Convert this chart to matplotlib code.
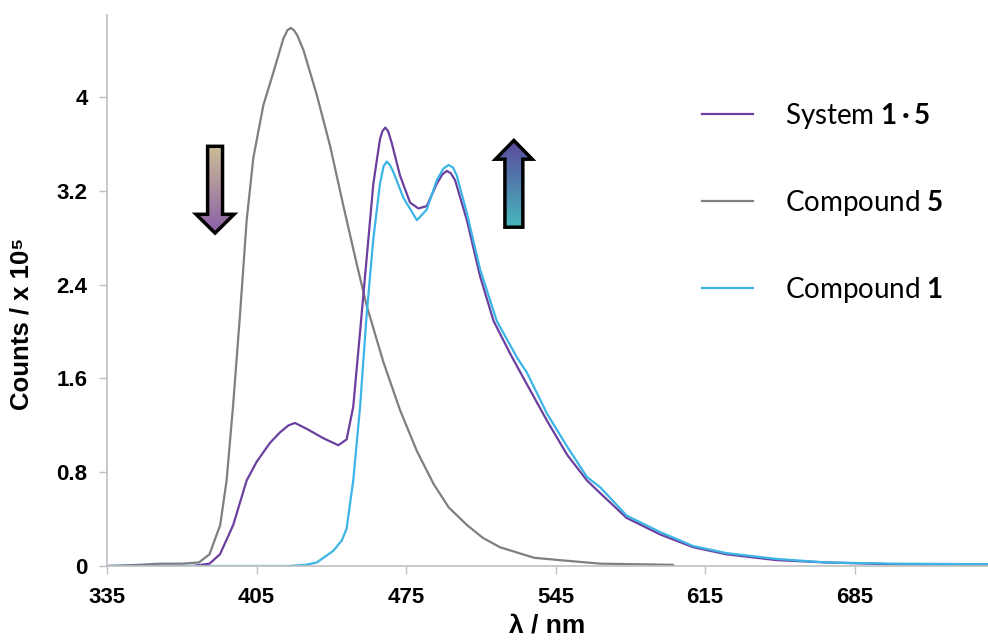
import matplotlib
matplotlib.use('Agg')
import matplotlib.pyplot as plt
import numpy as np
from matplotlib.patches import Polygon
from matplotlib.colors import LinearSegmentedColormap

# emission spectra (counts / 1e5)
wl_5 = [335, 350, 360, 370, 378, 383, 388, 391, 394, 397.3, 400.4, 403.5, 408.2,
        412.9, 417.6, 419.5, 421, 422.5, 424, 427, 433.2, 439.5, 445.7, 452, 456.6,
        464.4, 472.2, 480.1, 487.9, 495, 503.5, 511, 519, 535, 547, 566, 600]
cnt_5 = [0.0, 0.01, 0.02, 0.02, 0.03, 0.10, 0.35, 0.73, 1.36, 2.15, 2.95, 3.48, 3.93,
         4.21, 4.50, 4.57, 4.59, 4.57, 4.53, 4.40, 4.02, 3.58, 3.07, 2.57, 2.22,
         1.74, 1.33, 0.98, 0.70, 0.50, 0.35, 0.24, 0.16, 0.07, 0.05, 0.02, 0.01]

wl_15 = [335, 375, 383, 387.9, 394.1, 400.4, 405.1, 411.3, 416, 420, 423, 428.5,
         436.3, 443.3, 447.2, 450.3, 453.5, 456.6, 459.7, 462.8, 464, 465.3, 466.6,
         468.3, 472.2, 476.9, 480.8, 484.7, 489.4, 492, 494.1, 496, 498, 503.5, 509.7,
         516, 523.8, 531.6, 541, 550.4, 559.7, 566, 578.3, 593.9, 609.5, 625, 648.5,
         672, 703, 748]
cnt_15 = [0.0, 0.0, 0.02, 0.10, 0.35, 0.73, 0.89, 1.05, 1.14, 1.20, 1.22, 1.17,
          1.09, 1.03, 1.08, 1.36, 2.00, 2.63, 3.26, 3.64, 3.71, 3.74, 3.71,
          3.61, 3.33, 3.10, 3.05, 3.07, 3.26, 3.34, 3.37, 3.35, 3.29, 2.95, 2.47,
          2.09, 1.81, 1.55, 1.24, 0.95, 0.73, 0.62, 0.41, 0.27, 0.16, 0.10, 0.05,
          0.03, 0.015, 0.01]

wl_1 = [335, 420, 428, 433.2, 441, 445, 447.2, 450.3, 453.5, 456.6, 459.7, 462.8,
        464.5, 466, 467.5, 469.1, 473.8, 480.1, 484.7, 489.4, 492.5, 494.9, 497,
        498.8, 503.5, 509.7, 517.5, 526.9, 531.6, 541, 550.4, 559.7, 566, 578.3,
        593.9, 609.5, 625, 648.5, 672, 703, 748]
cnt_1 = [0.0, 0.0, 0.01, 0.03, 0.13, 0.22, 0.32, 0.73, 1.36, 2.15, 2.79, 3.26,
         3.41, 3.45, 3.42, 3.36, 3.14, 2.95, 3.04, 3.29, 3.39, 3.42, 3.40,
         3.33, 3.01, 2.53, 2.09, 1.78, 1.65, 1.30, 1.02, 0.76, 0.67, 0.43,
         0.29, 0.17, 0.11, 0.06, 0.03, 0.02, 0.015]

x_ticks = [335, 405, 475, 545, 615, 685]
y_ticks = [0, 0.8, 1.6, 2.4, 3.2, 4]
y_ticklabels = ['0', '0.8', '1.6', '2.4', '3.2', '4']

plt.rcParams['mathtext.fontset'] = 'custom'
plt.rcParams['mathtext.rm'] = 'Lato'
plt.rcParams['mathtext.bf'] = 'Lato:bold'

fig = plt.figure(figsize=(9.88, 6.43), dpi=100)
ax = fig.add_axes([107 / 988, 77 / 643, 881 / 988, 551 / 643])

ax.plot(wl_5, cnt_5, color='#7f7f7f', lw=1.6, label='Compound $\\mathbf{5}$')
ax.plot(wl_15, cnt_15, color='#6a3f9e', lw=1.6, label='System $\\mathbf{1\\,·\\,5}$')
ax.plot(wl_1, cnt_1, color='#3db4e6', lw=1.6, label='Compound $\\mathbf{1}$')

ax.set_xticks(x_ticks)
ax.set_yticks(y_ticks)
ax.set_yticklabels(y_ticklabels)

tick_font = dict(family=['Liberation Sans', 'DejaVu Sans'], weight='bold', size=16)
for lab in ax.get_xticklabels() + ax.get_yticklabels():
    lab.set_fontproperties(tick_font)
ax.tick_params(axis='y', length=6, width=1, color='#c0c0c0', pad=8)
ax.tick_params(axis='x', length=6, width=1, color='#c0c0c0', pad=9)

for s in ['top', 'right']:
    ax.spines[s].set_visible(False)
for s in ['left', 'bottom']:
    ax.spines[s].set_color('#c0c0c0')
    ax.spines[s].set_linewidth(1.2)

ax.set_ylabel('Counts / x 10⁵', fontdict=tick_font, fontsize=18.5)
ax.yaxis.set_label_coords(-0.083, 0.44)
ax.set_xlabel('λ / nm', fontdict=tick_font, fontsize=19, labelpad=4)


def grad_arrow(ax, cx, y_tail, y_head, y_tip, shaft_hw, head_hw, c_tail, c_tip):
    pts = [(cx - shaft_hw, y_tail), (cx + shaft_hw, y_tail), (cx + shaft_hw, y_head),
           (cx + head_hw, y_head), (cx, y_tip), (cx - head_hw, y_head),
           (cx - shaft_hw, y_head)]
    poly = Polygon(pts, closed=True, facecolor='none', edgecolor='black',
                   lw=2.5, joinstyle='miter', zorder=5)
    ax.add_patch(poly)
    cmap = LinearSegmentedColormap.from_list('g', [c_tail, c_tip])
    grad = np.linspace(0, 1, 256).reshape(-1, 1)
    lo, hi = min(y_tail, y_tip), max(y_tail, y_tip)
    if y_tip < y_tail:
        grad = grad[::-1]
    im = ax.imshow(grad, cmap=cmap, aspect='auto', origin='lower',
                   extent=(cx - head_hw, cx + head_hw, lo, hi), zorder=4)
    im.set_clip_path(poly)


# quenching / enhancement arrows
grad_arrow(ax, 385.6, 3.58, 3.0, 2.84, 3.5, 8.9, '#cdbd96', '#8a5fa8')
grad_arrow(ax, 525.5, 2.89, 3.47, 3.63, 4.2, 8.6, '#46b8bd', '#5b479c')
ax.set_xlim(335, 747.5)
ax.set_ylim(0, 4.7)

h, l = ax.get_legend_handles_labels()
order = [1, 0, 2]
leg = ax.legend([h[i] for i in order], [l[i] for i in order], frameon=False,
                loc='upper left', bbox_to_anchor=(702 / 988, 1 - 101 / 643),
                bbox_transform=fig.transFigure, borderpad=0, borderaxespad=0,
                handlelength=1.83, handletextpad=1.15, labelspacing=2.05,
                prop=dict(family='Lato', size=20))

fig.savefig('out.png', dpi=100)
